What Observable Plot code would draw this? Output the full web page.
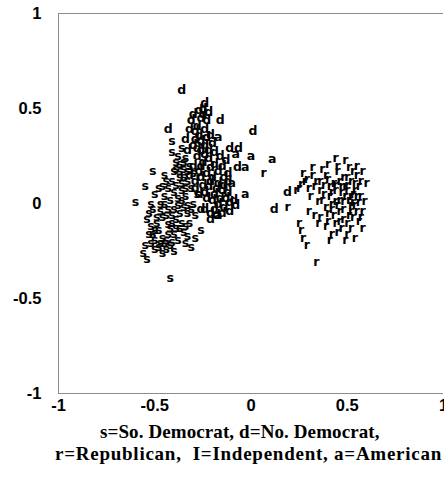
<!DOCTYPE html>
<html><head><meta charset="utf-8">
<script src="https://cdn.jsdelivr.net/npm/d3@7"></script>
<script src="https://cdn.jsdelivr.net/npm/@observablehq/plot@0.6"></script>
<style>
body{margin:0;background:#fff;}
.cap{font-family:"Liberation Serif","Times New Roman",serif;font-weight:bold;font-size:19px;line-height:22px;color:#000;white-space:nowrap;position:relative;}
#c1{padding-top:3px;left:100px;letter-spacing:0.1px;}
#c2{left:55px;letter-spacing:0.75px;}
</style>
</head><body>
<div id="chart"></div>
<div class="cap" id="c1">s=So. Democrat, d=No. Democrat,</div>
<div class="cap" id="c2">r=Republican,&nbsp; I=Independent, a=American</div>
<script>
// Southern Democrats [x, y]
const soDemocrats = [
[-0.60,0.01],[-0.54,-0.29],[-0.40,-0.25],[-0.29,-0.18],[-0.31,-0.23],[-0.42,-0.39],[-0.41,0.33],[-0.51,0.17],
[-0.55,0.09],[-0.50,0.05],[-0.40,0.17],[-0.41,0.27],[-0.55,-0.22],[-0.56,-0.26],[-0.53,-0.16],[-0.52,-0.12],
[-0.54,-0.08],[-0.51,-0.03],[-0.49,-0.07],[-0.48,-0.14],[-0.50,-0.19],[-0.48,-0.23],[-0.46,-0.18],[-0.45,-0.21],
[-0.47,0.00],[-0.45,0.04],[-0.43,0.08],[-0.44,0.12],[-0.42,0.02],[-0.43,-0.03],[-0.44,-0.06],[-0.42,-0.13],
[-0.40,-0.16],[-0.41,-0.20],[-0.38,-0.19],[-0.39,-0.08],[-0.40,-0.03],[-0.38,0.03],[-0.39,0.10],[-0.37,0.14],
[-0.37,0.21],[-0.36,0.07],[-0.35,-0.02],[-0.36,-0.10],[-0.35,-0.15],[-0.33,-0.05],[-0.34,0.04],[-0.33,0.12],
[-0.35,0.18],[-0.38,0.25],[-0.36,0.29],[-0.34,0.24],[-0.31,0.08],[-0.30,0.00],[-0.32,-0.10],[-0.29,-0.06],
[-0.46,-0.26],[-0.43,-0.16],[-0.48,0.08],[-0.45,0.15],[-0.52,0.00],[-0.53,-0.05],[-0.50,-0.14],[-0.42,-0.22],
[-0.37,-0.13],[-0.44,-0.24],[-0.34,-0.21],[-0.26,-0.14],[-0.28,0.05],[-0.30,0.16],[-0.32,0.20],[-0.39,0.18],
[-0.47,-0.04],[-0.46,-0.07],[-0.49,-0.10],[-0.51,-0.16],[-0.52,-0.21],[-0.50,-0.24],[-0.47,-0.21],[-0.44,-0.19],
[-0.43,-0.11],[-0.41,-0.06],[-0.41,-0.10],[-0.39,-0.13],[-0.37,-0.05],[-0.38,-0.01],[-0.36,0.02],[-0.40,0.06],
[-0.41,0.12],[-0.36,0.11],[-0.34,0.08],[-0.35,0.14],[-0.33,0.17],[-0.37,0.17],[-0.39,0.22],[-0.35,0.22],
[-0.33,-0.01],[-0.31,-0.03],[-0.34,-0.12],[-0.33,-0.17],[-0.45,0.00],[-0.46,0.09]
];
// Northern Democrats [x, y]
const noDemocrats = [
[-0.36,0.60],[-0.43,0.39],[-0.16,0.44],[0.01,0.38],[-0.11,0.29],[-0.065,0.29],[-0.07,0.19],[0.12,-0.03],
[0.19,0.06],[-0.12,0.06],[-0.11,-0.04],[-0.26,-0.03],
[-0.24,0.53],[-0.25,0.50],[-0.27,0.49],[-0.30,0.47],[-0.26,0.45],[-0.31,0.44],[-0.23,0.44],[-0.24,0.39],
[-0.29,0.38],[-0.32,0.39],[-0.21,0.36],[-0.26,0.33],[-0.30,0.31],[-0.33,0.28],[-0.24,0.31],[-0.20,0.32],
[-0.28,0.25],[-0.25,0.22],[-0.22,0.24],[-0.19,0.21],[-0.30,0.20],[-0.27,0.17],[-0.23,0.16],[-0.20,0.14],
[-0.17,0.17],[-0.15,0.20],[-0.14,0.14],[-0.29,0.12],[-0.25,0.10],[-0.22,0.09],[-0.18,0.08],[-0.15,0.07],
[-0.13,0.03],[-0.27,0.05],[-0.23,0.03],[-0.20,0.02],[-0.17,0.00],[-0.14,-0.02],[-0.24,-0.03],[-0.21,-0.05],
[-0.18,-0.06],[-0.15,-0.05],[-0.19,0.27],[-0.16,0.25],[-0.13,0.23],[-0.17,0.11],[-0.12,0.16],[-0.28,0.29],
[-0.22,0.28],[-0.09,0.02],[-0.08,-0.01],[-0.32,0.15],[-0.34,0.34],[-0.21,-0.08],
[-0.28,0.41],[-0.25,0.47],[-0.22,0.48],[-0.27,0.36],[-0.23,0.35],[-0.29,0.34],[-0.26,0.28],[-0.24,0.26],
[-0.21,0.19],[-0.26,0.20],[-0.29,0.08],[-0.26,0.14],[-0.24,0.06],[-0.21,0.12],[-0.19,0.05],[-0.16,0.03],
[-0.14,0.10],[-0.12,0.12],[-0.11,0.01],[-0.19,-0.03]
];
// Republicans [x, y]
const republicans = [
[0.065,0.16],[0.235,0.07],[0.19,-0.02],
[0.32,0.19],[0.27,0.16],[0.40,0.21],[0.44,0.24],[0.49,0.23],[0.55,0.20],[0.58,0.17],[0.60,0.11],[0.26,0.105],
[0.25,0.08],[0.25,-0.105],[0.26,-0.14],[0.27,-0.18],[0.29,-0.22],[0.34,-0.31],[0.36,-0.07],[0.40,-0.09],
[0.42,-0.16],[0.45,-0.15],[0.47,-0.13],[0.52,-0.13],[0.56,-0.09],[0.58,-0.13],[0.39,-0.02],[0.42,-0.03],
[0.45,-0.01],[0.48,0.015],[0.52,0.04],[0.56,0.09],[0.36,0.12],[0.39,0.15],[0.41,0.09],[0.44,0.07],
[0.46,0.12],[0.49,0.09],[0.52,0.12],[0.54,0.07],[0.57,0.04],[0.49,0.04],[0.44,0.015],[0.46,-0.04],
[0.52,-0.04],[0.54,-0.01],[0.41,0.04],[0.33,0.09],[0.31,0.04],[0.35,0.015],[0.32,0.15],[0.37,0.18],
[0.45,0.17],[0.53,0.17],[0.55,0.15],[0.51,-0.06],[0.46,-0.09],[0.59,0.015],[0.58,-0.04],[0.28,0.12],
[0.30,-0.04],[0.33,-0.06],[0.41,-0.19],[0.49,-0.19],[0.54,-0.18],[0.43,0.11],[0.50,0.14],[0.47,0.06],
[0.38,0.05],[0.53,0.01],[0.48,-0.08],[0.43,-0.06],[0.57,-0.07],[0.39,-0.12],[0.35,-0.10],[0.50,-0.16],
[0.38,0.10],[0.40,0.13],[0.42,0.06],[0.44,0.10],[0.46,0.02],[0.47,0.09],[0.48,0.14],[0.50,0.07],
[0.50,0.10],[0.51,0.02],[0.52,-0.01],[0.53,0.05],[0.54,0.11],[0.55,0.04],[0.56,0.01],[0.48,-0.03],
[0.50,-0.10],[0.53,-0.07],[0.55,-0.04],[0.44,-0.10],[0.42,0.00],[0.40,-0.05],[0.37,0.02],[0.36,0.07],
[0.34,0.12],[0.30,0.08],[0.29,0.13],[0.45,0.20],[0.51,0.19],[0.57,0.12]
];
// American party [x, y]
const americans = [
[-0.17,0.35],[0.0,0.25],[0.11,0.235],[-0.03,0.19],[-0.10,0.11],[-0.17,-0.06],[-0.03,0.05],[-0.08,0.26]
];
const ticks = [-1, -0.5, 0, 0.5, 1];

const rows = [
  ...soDemocrats.map(([x,y]) => ({x, y, p: "s"})),
  ...noDemocrats.map(([x,y]) => ({x, y, p: "d"})),
  ...republicans.map(([x,y]) => ({x, y, p: "r"})),
  ...americans.map(([x,y]) => ({x, y, p: "a"}))
];

const chart = Plot.plot({
  width: 444, height: 418,
  marginTop: 13, marginLeft: 58, marginRight: 1, marginBottom: 25,
  style: {fontFamily: "'Liberation Sans', Arial, sans-serif", fontWeight: "bold", fontSize: "16.5px", color: "#000", background: "#fff"},
  x: {domain: [-1, 1]},
  y: {domain: [-1, 1]},
  marks: [
    Plot.ruleX([-1], {stroke: "#8c8c8c", strokeWidth: 1}),
    Plot.ruleY([-1, 1], {stroke: "#8c8c8c", strokeWidth: 1}),
    Plot.axisX({ticks, tickSize: 0, tickPadding: 6, tickFormat: d => String(d), label: null}),
    Plot.axisY({ticks, tickSize: 0, tickPadding: 17, tickFormat: d => String(d), label: null}),
    Plot.text(rows, {x: "x", y: "y", text: "p", fontSize: 12.5, fontWeight: "bold", fontFamily: "'DejaVu Sans', sans-serif", fill: "#000"})
  ]
});
document.getElementById("chart").appendChild(chart);
</script>
</body></html>
